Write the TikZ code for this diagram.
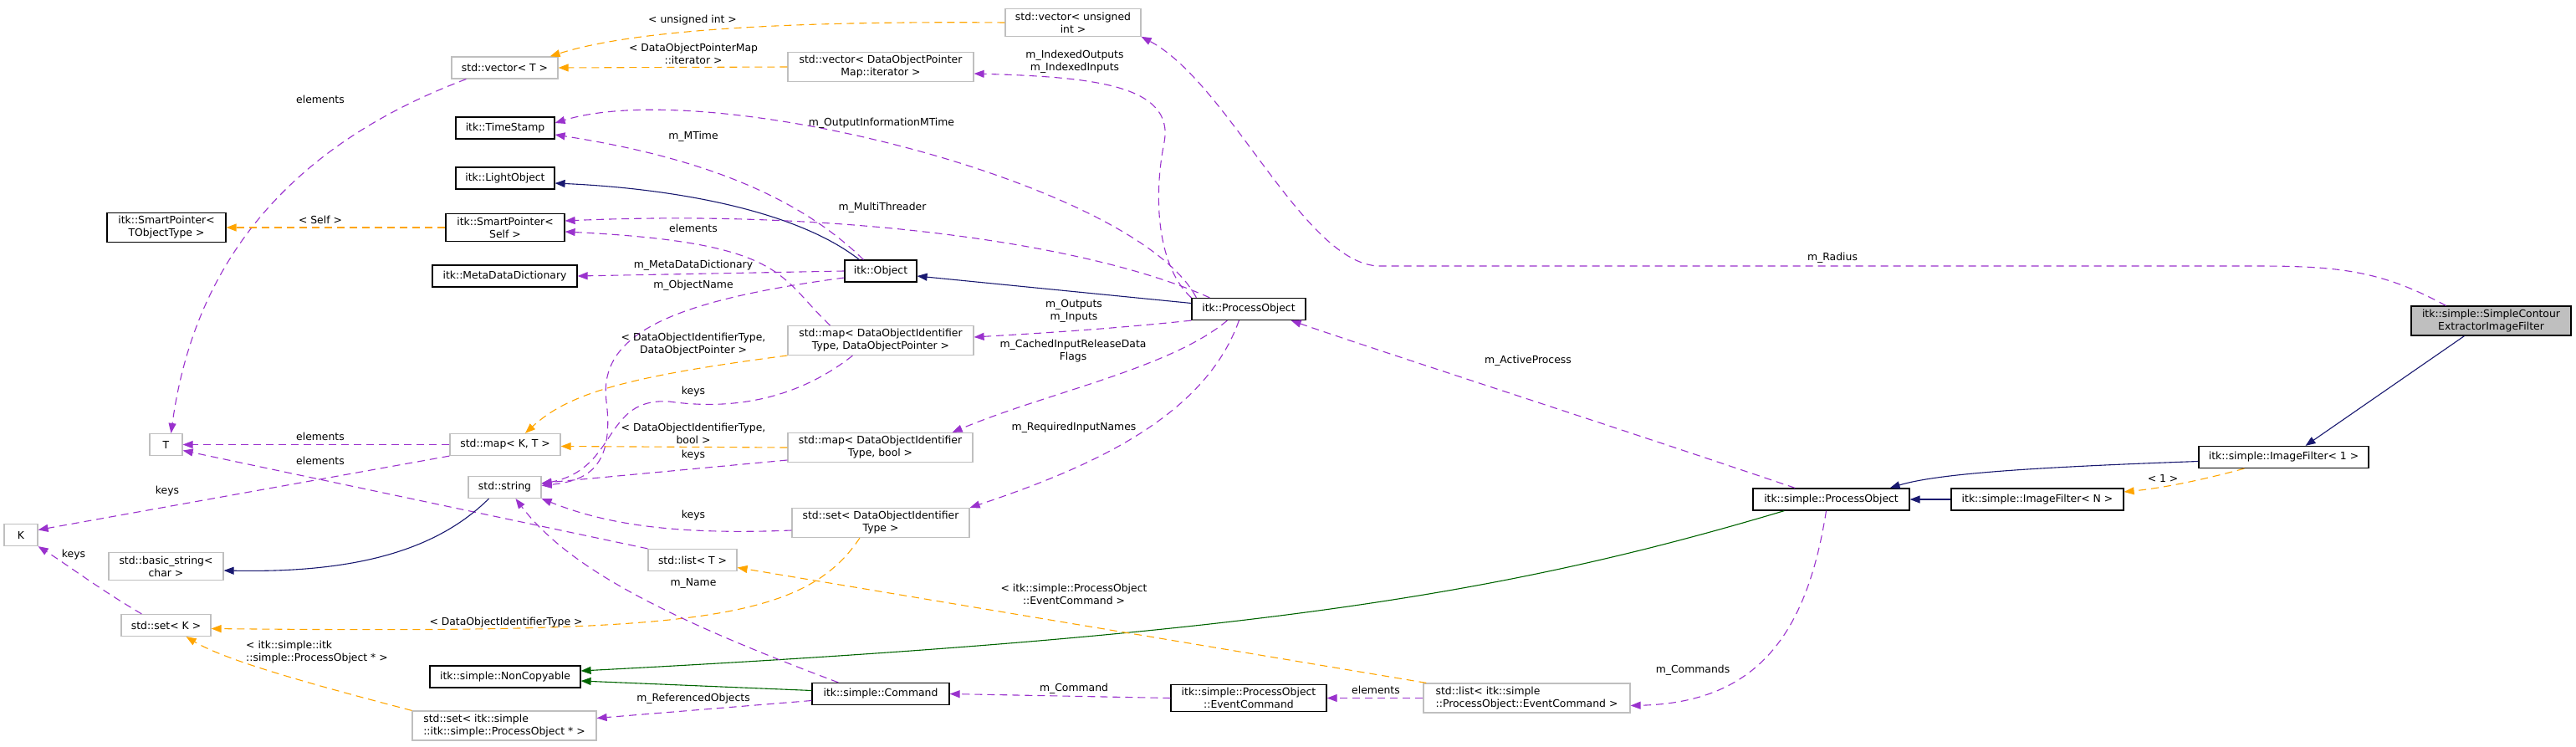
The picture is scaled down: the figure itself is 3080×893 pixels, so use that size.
\documentclass[tikz,border=0pt]{standalone}
\usepackage{fontspec}
\setmainfont{DejaVu Sans}
\usepackage{tikz}
\usetikzlibrary{arrows.meta}
\definecolor{orchid}{HTML}{9A32CD}
\definecolor{tmplorange}{HTML}{FFA500}
\definecolor{midblue}{HTML}{191970}
\definecolor{darkgrn}{HTML}{006400}
\definecolor{grey75}{HTML}{BFBFBF}

\begin{document}
\begin{tikzpicture}[x=1pt, y=-1pt,
  cls/.style={rectangle, draw=black, line width=1.2pt, minimum height=26pt, inner xsep=5pt, inner ysep=4pt, font=\fontsize{12.4}{15}\selectfont, align=center},
  tmpl/.style={cls, draw=grey75},
  lbl/.style={font=\fontsize{12.4}{15}\selectfont, align=center, inner sep=0pt},
  uses/.style={draw=orchid, line width=1.1pt, dash pattern=on 9pt off 6pt, -{Triangle[length=12pt, width=9pt]}},
  tmplArg/.style={uses, draw=tmplorange},
  inherit/.style={draw=midblue, line width=1.1pt, -{Triangle[length=12pt, width=9pt]}},
  protInherit/.style={inherit, draw=darkgrn},
]
  \useasboundingbox (0,0) rectangle (3080,893);

  \node[tmpl, minimum width=127pt] (vecT) at (603.5,81) {std::vector< T >};
  \node[tmpl, minimum width=162pt] (vecUInt) at (1283,27) {std::vector< unsigned\\int >};
  \node[tmpl, minimum width=222pt] (vecIter) at (1053,80) {std::vector< DataObjectPointer\\Map::iterator >};
  \node[cls, minimum width=118pt] (stamp) at (604,153) {itk::TimeStamp};
  \node[cls, minimum width=118pt] (light) at (604,213) {itk::LightObject};
  \node[cls, minimum width=142pt] (spSelf) at (604,272) {itk::SmartPointer<\\Self >};
  \node[cls, minimum width=173pt] (meta) at (603.5,330) {itk::MetaDataDictionary};
  \node[cls, minimum width=142pt] (spObj) at (199,272) {itk::SmartPointer<\\TObjectType >};
  \node[cls, minimum width=86pt] (object) at (1053,324) {itk::Object};
  \node[cls, minimum width=136pt] (procObj) at (1493,369.5) {itk::ProcessObject};
  \node[tmpl, minimum width=222pt] (mapPtr) at (1053,407) {std::map< DataObjectIdentifier\\Type, DataObjectPointer >};
  \node[tmpl, minimum width=221pt] (mapBool) at (1052.5,535) {std::map< DataObjectIdentifier\\Type, bool >};
  \node[tmpl, minimum width=212pt] (setId) at (1053,625) {std::set< DataObjectIdentifier\\Type >};
  \node[tmpl, minimum width=39pt] (T) at (198.5,531.5) {T};
  \node[tmpl, minimum width=132pt] (mapKT) at (604,531.5) {std::map< K, T >};
  \node[tmpl, minimum width=87pt] (str) at (603.5,582.5) {std::string};
  \node[tmpl, minimum width=40pt] (K) at (25,639.5) {K};
  \node[tmpl, minimum width=137pt] (basicStr) at (198.5,677) {std::basic\_string<\\char >};
  \node[tmpl, minimum width=107pt] (setK) at (198.5,747.5) {std::set< K >};
  \node[tmpl, minimum width=106pt] (listT) at (828,669.5) {std::list< T >};
  \node[cls, minimum width=180pt] (nonCopy) at (604,809) {itk::simple::NonCopyable};
  \node[tmpl, minimum width=220pt, align=left] (setPO) at (603,867.5) {std::set< itk::simple\\::itk::simple::ProcessObject * >};
  \node[cls, minimum width=164pt] (command) at (1053,829.5) {itk::simple::Command};
  \node[cls, minimum width=186pt] (evCmd) at (1493,834.5) {itk::simple::ProcessObject\\::EventCommand};
  \node[tmpl, minimum width=247pt, align=left] (listEv) at (1825.5,834.5) {std::list< itk::simple\\::ProcessObject::EventCommand >};
  \node[cls, minimum width=187pt] (sProc) at (2189.5,597) {itk::simple::ProcessObject};
  \node[cls, minimum width=206pt] (filterN) at (2436,597) {itk::simple::ImageFilter< N >};
  \node[cls, minimum width=203pt] (filter1) at (2730.5,546.5) {itk::simple::ImageFilter< 1 >};
  \node[cls, minimum width=191pt, fill=grey75] (contour) at (2978.5,383.5) {itk::simple::SimpleContour\\ExtractorImageFilter};

  \draw[uses] ([xshift=18pt]vecT.south west) .. controls (330,180) and (230,330) .. ([xshift=6pt]T.north);
  \draw[tmplArg] (vecUInt.west) .. controls (950,25) and (760,35) .. ([xshift=-10pt]vecT.north east);
  \draw[tmplArg] (vecIter.west) -- (vecT.east);
  \draw[uses] (procObj.north west) .. controls (1385,320) and (1378,240) .. (1392,170) .. controls (1405,100) and (1300,92) .. ([yshift=-8pt]vecIter.east);
  \draw[uses] ([xshift=6pt]procObj.north west) .. controls (1360,220) and (850,90) .. ([yshift=6pt]stamp.east);
  \draw[uses] ([xshift=23pt]object.north west) .. controls (960,240) and (850,190) .. ([yshift=-8pt]stamp.east);
  \draw[inherit] ([xshift=18pt]object.north west) .. controls (950,250) and (800,225) .. ([yshift=-6pt]light.east);
  \draw[uses] ([xshift=22pt]procObj.north west) .. controls (1300,290) and (1000,250) .. ([yshift=8pt]spSelf.east);
  \draw[uses] ([xshift=51pt]mapPtr.north west) .. controls (930,330) and (940,290) .. ([yshift=-5pt]spSelf.east);
  \draw[tmplArg] (spSelf.west) -- (spObj.east);
  \draw[uses] (object.west) -- (meta.east);
  \draw[uses] ([yshift=-8pt]object.west) .. controls (800,360) and (715,400) .. (725,480) .. controls (735,560) and (700,575) .. ([yshift=2pt]str.east);
  \draw[inherit] ([yshift=7pt]procObj.west) -- ([yshift=-6pt]object.east);
  \draw[uses] (procObj.south west) .. controls (1330,393) and (1250,398) .. ([yshift=4pt]mapPtr.east);
  \draw[uses] ([xshift=43pt]procObj.south west) .. controls (1400,440) and (1250,470) .. ([xshift=-25pt]mapBool.north east);
  \draw[uses] ([xshift=57pt]procObj.south west) .. controls (1440,500) and (1300,560) .. (setId.north east);
  \draw[tmplArg] ([yshift=-18pt]mapPtr.west) .. controls (750,450) and (680,470) .. ([xshift=24pt]mapKT.north);
  \draw[uses] ([xshift=78pt]mapPtr.south west) .. controls (950,480) and (870,490) .. (800,480) .. controls (720,475) and (740,560) .. ([yshift=4pt]str.east);
  \draw[tmplArg] (mapBool.west) -- ([yshift=-2pt]mapKT.east);
  \draw[uses] ([yshift=-15pt]mapBool.west) -- ([yshift=5pt]str.east);
  \draw[uses] ([yshift=-9pt]setId.west) .. controls (800,640) and (720,625) .. (str.south east);
  \draw[tmplArg] ([xshift=-25pt]setId.south) .. controls (960,745) and (820,757) .. ([yshift=-4pt]setK.east);
  \draw[uses] (mapKT.west) -- (T.east);
  \draw[uses] (mapKT.south west) -- ([yshift=6pt]K.east);
  \draw[uses] (listT.north west) -- ([yshift=-7pt]T.east);
  \draw[inherit] ([xshift=-19pt]str.south) .. controls (520,660) and (420,685) .. ([yshift=-5pt]basicStr.east);
  \draw[uses] ([xshift=25pt]setK.north west) .. controls (120,705) and (80,675) .. (K.south east);
  \draw[tmplArg] (setPO.north west) .. controls (380,820) and (270,790) .. ([xshift=-30pt]setK.south east);
  \draw[protInherit] ([xshift=38pt]sProc.south west) .. controls (1800,710) and (1500,760) .. ([yshift=7pt]nonCopy.east);
  \draw[protInherit] ([yshift=4pt]command.west) -- ([yshift=-5pt]nonCopy.east);
  \draw[uses] ([xshift=32pt]command.north west) .. controls (800,740) and (680,680) .. ([xshift=13pt]str.south);
  \draw[uses] ([yshift=-8pt]command.west) -- ([yshift=9pt]setPO.east);
  \draw[uses] (evCmd.west) -- (command.east);
  \draw[uses] (listEv.west) -- (evCmd.east);
  \draw[tmplArg] ([xshift=4pt]listEv.north west) -- ([yshift=-9pt]listT.east);
  \draw[uses] ([xshift=-6pt]sProc.south) .. controls (2160,760) and (2100,840) .. ([yshift=-9pt]listEv.east);
  \draw[uses] ([xshift=51pt]sProc.north west) .. controls (1900,500) and (1650,420) .. ([xshift=-18pt]procObj.south east);
  \draw[inherit] (filterN.west) -- (sProc.east);
  \draw[inherit] ([yshift=-5pt]filter1.west) .. controls (2450,558) and (2320,565) .. ([xshift=-24pt]sProc.north east);
  \draw[tmplArg] ([xshift=55pt]filter1.south west) .. controls (2640,572) and (2590,583) .. ([yshift=9pt]filterN.east);
  \draw[inherit] ([xshift=-32pt]contour.south) -- ([xshift=26pt]filter1.north);
  \draw[uses] ([xshift=-54pt]contour.north) .. controls (2850,325) and (2800,318) .. (2700,318) -- (1650,318) .. controls (1560,318) and (1470,100) .. (vecUInt.south east);

  \node[lbl] (lVecElem) at (383,119) {elements};
  \node[lbl] (lUInt) at (828,24) {< unsigned int >};
  \node[lbl] (lIterArg) at (829,64) {< DataObjectPointerMap\\::iterator >};
  \node[lbl] (lIndexed) at (1285,74) {m\_IndexedOutputs\\m\_IndexedInputs};
  \node[lbl] (lOutInfo) at (1054,147) {m\_OutputInformationMTime};
  \node[lbl] (lMTime) at (829,163) {m\_MTime};
  \node[lbl] (lThreader) at (1055,248) {m\_MultiThreader};
  \node[lbl] (lPtrElem) at (829,273) {elements};
  \node[lbl] (lSelf) at (383,263) {< Self >};
  \node[lbl] (lMeta) at (829,317) {m\_MetaDataDictionary};
  \node[lbl] (lObjName) at (829,341) {m\_ObjectName};
  \node[lbl] (lOutputs) at (1284,372) {m\_Outputs\\m\_Inputs};
  \node[lbl] (lCached) at (1283,420) {m\_CachedInputReleaseData\\Flags};
  \node[lbl] (lRequired) at (1284,511) {m\_RequiredInputNames};
  \node[lbl] (lPtrArg) at (829,412) {< DataObjectIdentifierType,\\DataObjectPointer >};
  \node[lbl] (lPtrKeys) at (829,468) {keys};
  \node[lbl] (lBoolArg) at (829,518) {< DataObjectIdentifierType,\\bool >};
  \node[lbl] (lBoolKeys) at (829,544) {keys};
  \node[lbl] (lSetKeys) at (829,616) {keys};
  \node[lbl] (lSetArg) at (605,744) {< DataObjectIdentifierType >};
  \node[lbl] (lMapElem) at (383,522) {elements};
  \node[lbl] (lListElem) at (383,551) {elements};
  \node[lbl] (lMapKeys) at (200,587) {keys};
  \node[lbl] (lSetKKeys) at (88,663) {keys};
  \node[lbl, align=left, anchor=west] (lPOArg) at (294,780) {< itk::simple::itk\\::simple::ProcessObject * >};
  \node[lbl] (lName) at (829,697) {m\_Name};
  \node[lbl] (lRefObj) at (829,835) {m\_ReferencedObjects};
  \node[lbl] (lCommand) at (1284,823) {m\_Command};
  \node[lbl] (lEvElem) at (1645,825) {elements};
  \node[lbl] (lEvArg) at (1284,710) {< itk::simple::ProcessObject\\::EventCommand >};
  \node[lbl] (lCommands) at (2024,801) {m\_Commands};
  \node[lbl] (lActive) at (1827,431) {m\_ActiveProcess};
  \node[lbl] (lOne) at (2586,572) {< 1 >};
  \node[lbl] (lRadius) at (2191,308) {m\_Radius};
\end{tikzpicture}
\end{document}
